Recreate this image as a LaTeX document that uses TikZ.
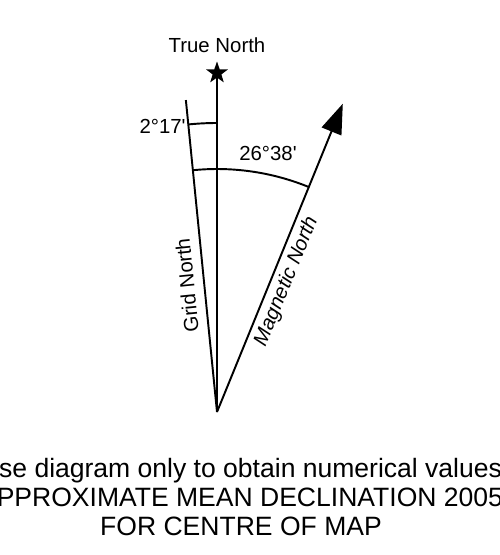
\documentclass[tikz,border=0pt]{standalone}
\usepackage{fontspec}
\setmainfont{Liberation Sans}
\usetikzlibrary{arrows.meta,positioning,shapes.geometric}
\tikzset{ray/.style={line width=1.1pt,draw=black},lbl/.style={font=\fontsize{11.6}{14}\selectfont,inner sep=0pt},note/.style={font=\fontsize{15.1}{16.5}\selectfont,align=center,inner sep=0pt},tip/.style={-{Triangle[length=0.6cm,width=0.42cm]}}}

\begin{document}
\begin{tikzpicture}[x=0.02cm,y=0.02cm]
\useasboundingbox (-217,-143) rectangle (283,412);
\clip (-217,-143) rectangle (283,412);
\coordinate (apex) at (0,0);
\coordinate (grid) at (95.7:313.5);
\coordinate (mag) at (67.8:333);
\node[star,star points=5,star point ratio=2.5,fill=black,minimum size=0.46cm,inner sep=0pt] (star) at (0,339) {};
\draw[ray] (apex) -- (star.center);
\draw[ray] (apex) -- (grid);
\draw[ray,tip] (apex) -- (mag);
\draw[ray] (90:289) arc[start angle=90,end angle=95.7,radius=289];
\draw[ray] (95.7:243) arc[start angle=95.7,end angle=67.8,radius=243];
\node[lbl] (tn) at (0,367) {True North};
\node[lbl,anchor=east] (small) at (-31,286) {2°17\textquotesingle};
\node[lbl] (big) at (51,259) {26°38\textquotesingle};
\node[lbl,rotate=95.7] (gn) at (-30,126.5) {Grid North};
\node[lbl,rotate=67.8,font=\fontsize{11.6}{14}\selectfont\itshape] (mn) at (69.7,130.3) {Magnetic North};
\node[note] (usage) at (24,-85) {Use diagram only to obtain numerical values\\APPROXIMATE MEAN DECLINATION 2005\\FOR CENTRE OF MAP};
\end{tikzpicture}
\end{document}
